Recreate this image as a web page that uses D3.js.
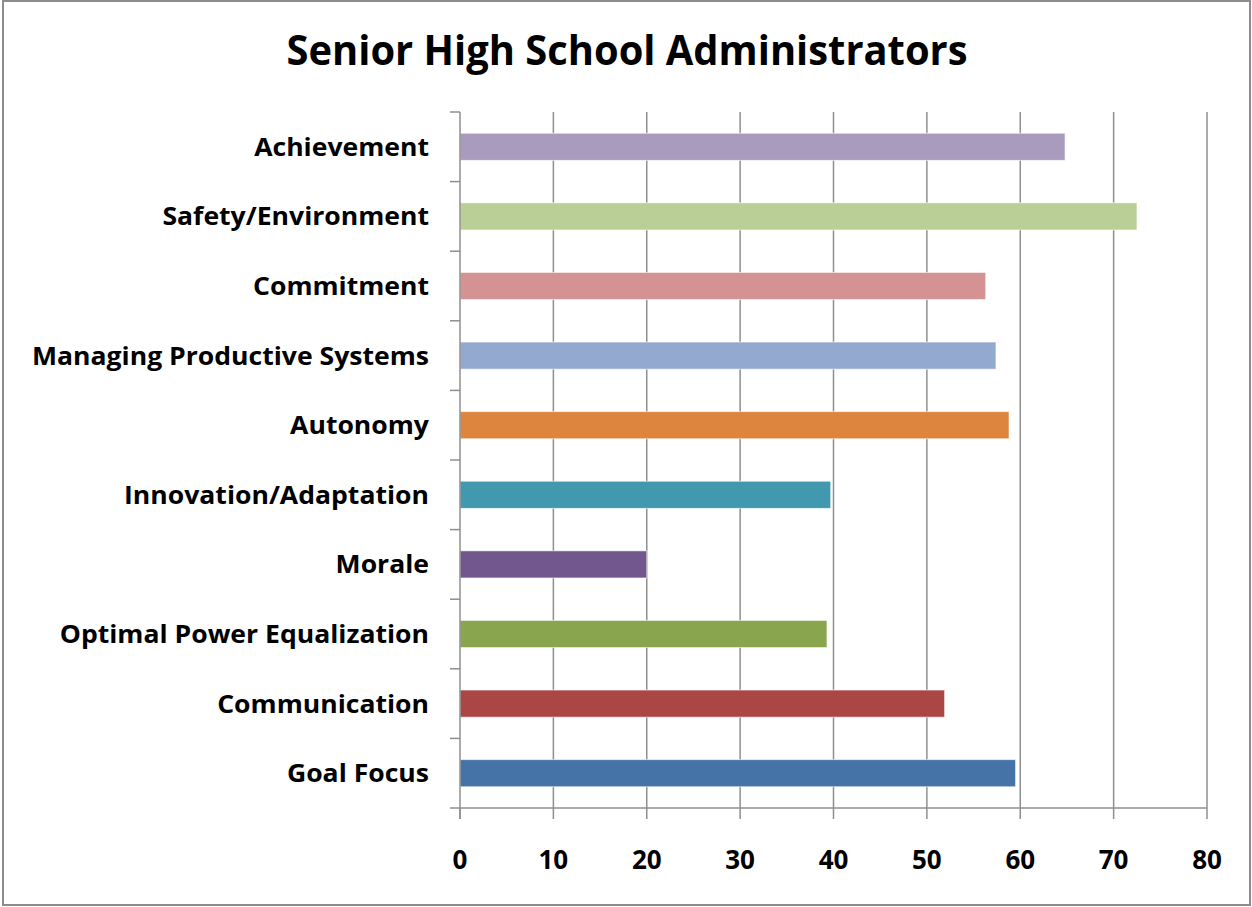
<!DOCTYPE html>
<html><head><meta charset="utf-8">
<script src="https://cdn.jsdelivr.net/npm/d3@7"></script>
<style>body{margin:0;background:#fff}svg{display:block}</style>
</head><body>
<script>
const categories = ["Goal Focus","Communication","Optimal Power Equalization","Morale","Innovation/Adaptation","Autonomy","Managing Productive Systems","Commitment","Safety/Environment","Achievement"];
const values = [59.5, 51.9, 39.3, 20.0, 39.7, 58.8, 57.4, 56.3, 72.5, 64.8];
const colors = ["#4573A7","#AA4644","#89A54E","#72578F","#4198AF","#DD843F","#94A9D0","#D49392","#B9CF96","#A99BBD"];
const xTicks = [0,10,20,30,40,50,60,70,80];
const title = "Senior High School Administrators";

(function(){
const W = 1252, H = 907;
const svg = d3.select("body").append("svg").attr("width", W).attr("height", H);
svg.append("rect").attr("x",3).attr("y",1).attr("width",1247).attr("height",904)
  .attr("fill","#fff").attr("stroke","#8c8c8c").attr("stroke-width",2);

const pL = 460, pR = 1207, pT = 112, pB = 808;
const x = d3.scaleLinear().domain([0,80]).range([pL,pR]);
const y = d3.scaleBand().domain(categories.slice().reverse()).range([pT,pB]).paddingInner(0.61).paddingOuter(0.305);
const yb = d3.scaleBand().domain(categories.slice().reverse()).range([pT,pB]);

svg.append("g").selectAll("line").data(xTicks.slice(1)).join("line")
  .attr("x1",d=>x(d)).attr("x2",d=>x(d)).attr("y1",pT).attr("y2",pB)
  .attr("stroke","#8f8f8f").attr("stroke-width",1.5);

svg.append("g").selectAll("rect").data(categories).join("rect")
  .attr("x",x(0)).attr("y",d=>y(d)).attr("height",y.bandwidth())
  .attr("width",(d,i)=>x(values[i])-x(0))
  .attr("fill",(d,i)=>colors[i]).attr("stroke","rgba(255,255,255,0.6)").attr("stroke-width",1);

const axisColor = "#8f8f8f";
svg.append("line").attr("x1",pL).attr("x2",pL).attr("y1",pT).attr("y2",pB+11).attr("stroke",axisColor).attr("stroke-width",1.5);
svg.append("line").attr("x1",pL-10).attr("x2",pR).attr("y1",pB).attr("y2",pB).attr("stroke",axisColor).attr("stroke-width",1.5);
const bounds = categories.map(c=>yb(c));
svg.append("g").selectAll("line").data(bounds).join("line")
  .attr("x1",pL-10).attr("x2",pL).attr("y1",d=>d).attr("y2",d=>d)
  .attr("stroke",axisColor).attr("stroke-width",1.5);
svg.append("g").selectAll("line").data(xTicks).join("line")
  .attr("x1",d=>x(d)).attr("x2",d=>x(d)).attr("y1",pB).attr("y2",pB+11)
  .attr("stroke",axisColor).attr("stroke-width",1.5);

svg.append("g").selectAll("text").data(xTicks).join("text")
  .attr("x",d=>x(d)).attr("y",869).attr("text-anchor","middle")
  .attr("font-family","Open Sans").attr("font-weight","bold").attr("font-size",26)
  .attr("fill","#000").text(d=>d);

const labs = svg.append("g").selectAll("text").data(categories).join("text")
  .attr("x",429).attr("y",d=>yb(d)+yb.bandwidth()/2+9).attr("text-anchor","end")
  .attr("font-family","Open Sans").attr("font-weight","bold").attr("font-size",25)
  .attr("fill","#000").text(d=>d);
const ref = labs.filter(d=>d==="Managing Productive Systems").node().getComputedTextLength();
const k = 397/ref;
labs.each(function(){ const w=this.getComputedTextLength(); d3.select(this).attr("textLength",w*k).attr("lengthAdjust","spacingAndGlyphs"); });

svg.append("text").attr("x",627).attr("y",65).attr("text-anchor","middle")
  .attr("font-family","Open Sans").attr("font-weight","bold").attr("font-size",42)
  .attr("fill","#000").attr("textLength",681).attr("lengthAdjust","spacingAndGlyphs").text(title);
})();
</script>
</body></html>
